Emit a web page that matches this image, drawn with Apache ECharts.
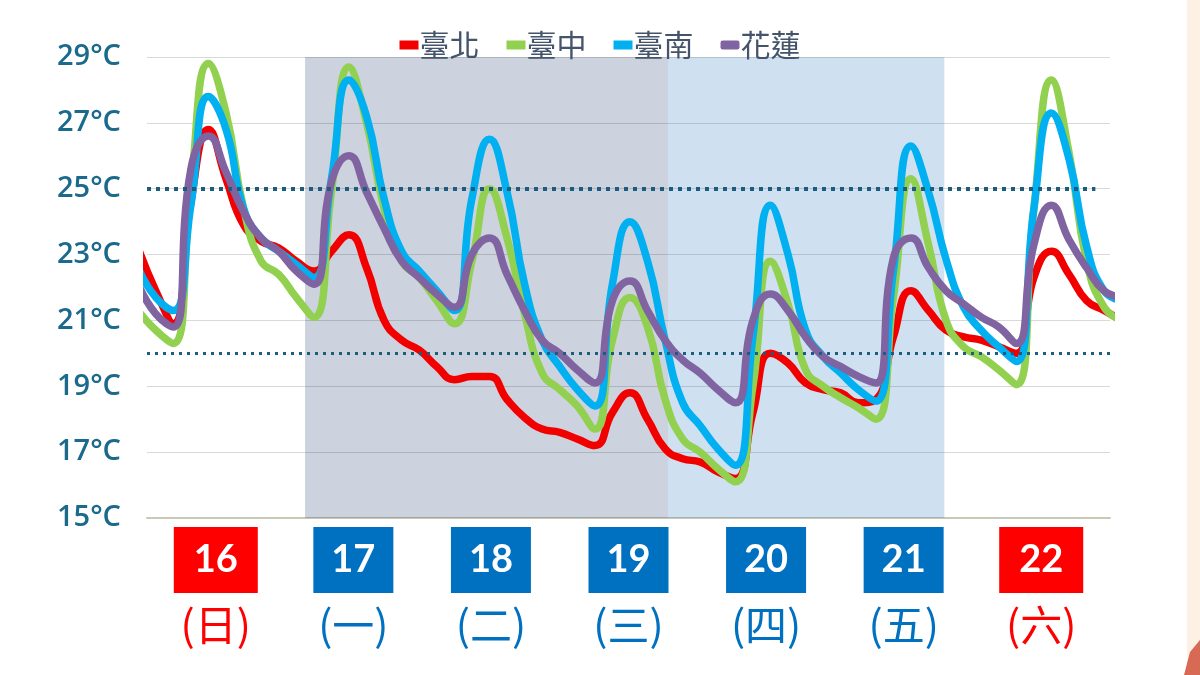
<!DOCTYPE html>
<html>
<head>
<meta charset="utf-8">
<script src="https://cdn.jsdelivr.net/npm/echarts@6/dist/echarts.min.js"></script>
<style>
html,body{margin:0;padding:0;background:#fff;}
#chart{width:1200px;height:675px;}
</style>
</head>
<body>
<div id="chart"></div>
<script>
// Hours since 16日 00:00 (3-hourly)
const hours = [0,3,6,9,12,15,18,21,24,27,30,33,36,39,42,45,48,51,54,57,60,63,66,69,72,75,78,81,84,87,90,93,96,99,102,105,108,111,114,117,120,123,126,129,132,135,138,141,144,147,150,153,156,159,162,165,168];

const taipei = [23.2,21.9,20.9,24.6,26.8,25.3,23.9,23.4,23.2,22.8,22.5,23.1,23.6,22.6,21.0,20.4,20.1,19.6,19.2,19.3,19.3,18.6,18.05,17.7,17.6,17.4,17.2,18.2,18.8,18.0,17.1,16.8,16.7,16.4,16.2,18.2,20.0,19.7,19.1,18.9,18.8,18.5,18.6,20.5,21.9,21.3,20.7,20.5,20.4,20.2,20.0,22.3,23.1,22.4,21.6,21.3,21.0];
const taichung = [21.3,20.7,20.3,25.1,28.8,27.3,24.4,22.8,22.4,21.7,21.1,24.9,28.7,27.0,24.4,22.8,22.3,21.6,20.9,22.8,25.0,23.5,21.2,19.4,18.9,18.4,17.7,20.4,21.7,20.8,18.6,17.4,17.0,16.5,16.1,19.0,22.8,21.5,19.5,19.0,18.65,18.35,18.0,21.7,25.3,23.3,21.0,20.2,19.9,19.5,19.05,24.4,28.3,26.1,22.8,21.4,21.0];
const tainan = [22.6,21.7,21.3,24.5,27.8,26.8,24.4,23.5,23.1,22.7,22.3,25.3,28.3,27.2,24.7,23.1,22.5,21.9,21.3,24.7,26.5,24.9,22.1,20.4,19.6,18.9,18.4,22.1,24.0,22.8,20.4,18.5,17.8,17.1,16.6,20.5,24.5,23.0,20.7,19.9,19.4,18.9,18.55,22.5,26.3,24.9,22.85,21.4,20.7,20.2,19.75,24.4,27.3,25.9,23.25,21.9,21.6];
const hualien = [22.1,21.2,20.8,25.6,26.6,25.5,24.3,23.5,23.1,22.5,22.1,25.2,26.0,24.9,23.8,22.8,22.3,21.8,21.4,23.0,23.5,22.4,21.3,20.4,20.0,19.5,19.1,21.6,22.2,21.3,20.4,19.8,19.4,18.9,18.5,21.0,21.8,21.3,20.5,19.9,19.6,19.3,19.1,22.9,23.5,22.6,21.9,21.5,21.1,20.8,20.3,23.3,24.5,23.45,22.6,21.9,21.7];

const seriesNames = ['臺北','臺中','臺南','花蓮'];
const seriesColors = ['#f20000','#92d050','#00b0f0','#8064a2'];

const days = ['16','17','18','19','20','21','22'];
const weekdays = ['日','一','二','三','四','五','六'];
const weekend = [true,false,false,false,false,false,true];

const yTicks = {min:15, max:29, step:2};
const refLines = [25, 20];
// shaded periods (hours since 16日 00:00)
const bandDark = [28.5, 90.5];
const bandLight = [90.5, 137.7];
const xRange = [1.5, 166];

const pair = arr => hours.map((h,i)=>[h, arr[i]]);
const seriesData = [taipei, taichung, tainan, hualien];

const chart = echarts.init(document.getElementById('chart'), null, {renderer:'canvas'});

const lineSeries = seriesNames.map((n,k)=>({
  name:n, type:'line', xAxisIndex:0, data: pair(seriesData[k]),
  smooth:0.5, symbol:'none', clip:true, z:3,
  lineStyle:{width:7.5, color:seriesColors[k], cap:'round', join:'round'},
  itemStyle:{color:seriesColors[k]}
}));

const option = {
  backgroundColor:'#ffffff',
  animation:false,
  grid:{left:147, right:90, top:57, bottom:157},
  legend:{
    data: seriesNames.map((n,k)=>({name:n, icon: k===3?'roundRect':'rect'})),
    top:25, left:'center', itemGap:27, itemWidth:19, itemHeight:9,
    textStyle:{fontSize:30, color:'#44546a', fontFamily:'Noto Sans CJK TC', padding:[0,0,0,-4]}
  },
  xAxis:[
    {type:'value', min:xRange[0], max:xRange[1], show:false},
    {type:'category', data:days, position:'bottom', boundaryGap:true,
     axisLine:{show:true, lineStyle:{color:'#c9c9b8', width:2}},
     axisTick:{show:false},
     axisLabel:{interval:0, margin:9,
       formatter:(v,i)=>{
         const w = weekend[i];
         return '{'+(w?'bR':'bB')+'|'+v+'}\n{'+(w?'wR':'wB')+'|('+weekdays[i]+')}';
       },
       rich:{
         bR:{backgroundColor:'#ff0000', color:'#fff', fontSize:38, fontWeight:'bold', fontFamily:'Lato', width:84, height:66, lineHeight:66, align:'center'},
         bB:{backgroundColor:'#0070c0', color:'#fff', fontSize:38, fontWeight:'bold', fontFamily:'Lato', width:80, height:66, lineHeight:66, align:'center'},
         wR:{color:'#ff0000', fontSize:42, fontFamily:'Noto Sans CJK TC', lineHeight:64, align:'center'},
         wB:{color:'#0070c0', fontSize:42, fontFamily:'Noto Sans CJK TC', lineHeight:64, align:'center'}
       }
     }
    }
  ],
  yAxis:{
    type:'value', min:yTicks.min, max:yTicks.max, interval:yTicks.step,
    axisLine:{show:false}, axisTick:{show:false},
    splitLine:{lineStyle:{color:'#d9d9d9', width:1}},
    axisLabel:{formatter:'{value}°C', fontSize:29, fontWeight:600, color:'#1b6a8c', fontFamily:'Open Sans', margin:26}
  },
  graphic:[
    {type:'rect', shape:{x:1187, y:0, width:13, height:675}, style:{fill:'#fdf0e4'}, z:-1},
    {type:'polygon', shape:{points:[[1200,640],[1190,652],[1184,675],[1200,675]]}, style:{fill:'#d66a55'}, z:-1}
  ],
  series:[
    {name:'ref', type:'line', xAxisIndex:0, data:[], z:1, silent:true,
     markLine:{symbol:'none', silent:true, label:{show:false},
       data:[
         [{coord:[xRange[0], refLines[0]]},{coord:[163.5, refLines[0]], lineStyle:{type:[4,5], width:4, color:'#1c5c7c'}}],
         [{coord:[xRange[0], refLines[1]]},{coord:[xRange[1], refLines[1]], lineStyle:{type:[3,5], width:3, color:'#1c5c7c'}}]
       ],
       lineStyle:{type:[4,5], width:4, color:'#1c5c7c'}
     }
    },
    ...lineSeries,
    {name:'bands', type:'line', xAxisIndex:0, data:[], z:10, silent:true,
     markArea:{silent:true,
       data:[
         [{xAxis:bandDark[0], itemStyle:{color:'rgba(0,28,92,0.2)'}},{xAxis:bandDark[1]}],
         [{xAxis:bandLight[0], itemStyle:{color:'rgba(15,100,182,0.2)'}},{xAxis:bandLight[1]}]
       ]
     }
    }
  ]
};
chart.setOption(option);
</script>
</body>
</html>
